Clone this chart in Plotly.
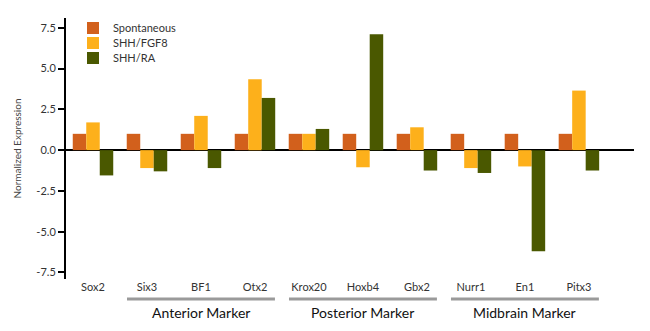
import plotly.graph_objects as go

categories = ["Sox2", "Six3", "BF1", "Otx2", "Krox20", "Hoxb4", "Gbx2", "Nurr1", "En1", "Pitx3"]
spontaneous = [1.0, 1.0, 1.0, 1.0, 1.0, 1.0, 1.0, 1.0, 1.0, 1.0]
shh_fgf8 = [1.7, -1.1, 2.1, 4.35, 1.0, -1.05, 1.4, -1.1, -1.0, 3.65]
shh_ra = [-1.55, -1.3, -1.1, 3.2, 1.3, 7.1, -1.25, -1.4, -6.2, -1.25]
series_names = ["Spontaneous", "SHH/FGF8", "SHH/RA"]
series_colors = ["#D2601C", "#FDB01B", "#4A5800"]
groups = [("Anterior Marker", 1, 3), ("Posterior Marker", 4, 6), ("Midbrain Marker", 7, 9)]
y_ticks = [-7.5, -5.0, -2.5, 0.0, 2.5, 5.0, 7.5]

FONT = "Lato, Open Sans, sans-serif"
x_idx = list(range(len(categories)))

W, H = 650, 331
L, R, T, B = 66, 16, 18, 52
ph = H - T - B
pw = W - L - R

def py(pix):
    return (H - B - pix) / ph

def px(pix):
    return (pix - L) / pw

legend_ids = ["legend", "legend2", "legend3"]
legend_rows = [28, 43, 58]

fig = go.Figure()
for name, vals, col, lid in zip(series_names, [spontaneous, shh_fgf8, shh_ra], series_colors, legend_ids):
    fig.add_trace(go.Bar(x=x_idx, y=vals, name=name, legend=lid,
                         marker=dict(color=col, line=dict(width=0))))

shapes = []
annotations = []
for label, a, b in groups:
    shapes.append(dict(type="line", xref="x", yref="paper", x0=a - 0.37, x1=b + 0.37,
                       y0=py(299), y1=py(299), line=dict(color="#9a9a9a", width=3)))
    annotations.append(dict(text=label, xref="x", yref="paper", x=(a + b) / 2, y=py(312),
                            showarrow=False, font=dict(family=FONT, size=14, color="#111111"),
                            xanchor="center", yanchor="middle"))

legend_layout = {}
for lid, row in zip(legend_ids, legend_rows):
    legend_layout[lid] = dict(x=px(73), y=py(row), xanchor="left", yanchor="middle",
                              bgcolor="rgba(0,0,0,0)", borderwidth=0,
                              font=dict(family=FONT, size=11, color="#333333"),
                              itemwidth=30)

fig.update_layout(
    width=W, height=H,
    margin=dict(l=L, r=R, t=T, b=B),
    paper_bgcolor="white", plot_bgcolor="white",
    barmode="group", bargap=0.25, bargroupgap=0,
    font=dict(family=FONT, size=11, color="#333333"),
    showlegend=True,
    xaxis=dict(range=[-0.5, 10.02], tickmode="array", tickvals=x_idx, ticktext=categories,
               showgrid=False, showline=False, ticks="", zeroline=False,
               tickfont=dict(family=FONT, size=11, color="#333333")),
    yaxis=dict(range=[-7.9, 8.1], tickmode="array", tickvals=y_ticks,
               ticktext=[f"{v:.1f}" for v in y_ticks],
               showgrid=False, showline=True, linecolor="black", linewidth=2,
               ticks="outside", ticklen=6, tickwidth=2, tickcolor="black",
               zeroline=True, zerolinecolor="black", zerolinewidth=2,
               title=dict(text="Normalized Expression", font=dict(family=FONT, size=10, color="#444444"), standoff=13),
               tickfont=dict(family=FONT, size=11, color="#333333")),
    shapes=shapes,
    annotations=annotations,
    **legend_layout,
)

fig.write_html("out.html")
